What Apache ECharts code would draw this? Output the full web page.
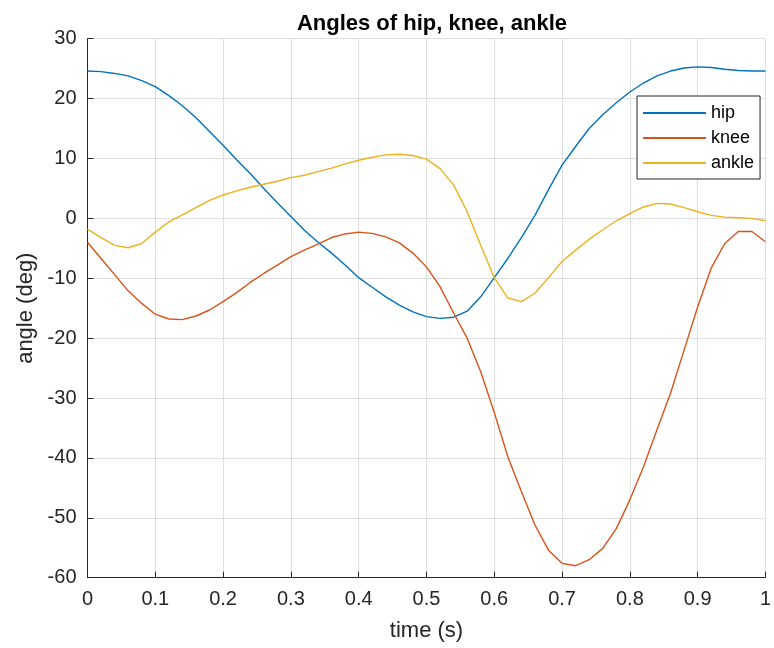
<!DOCTYPE html>
<html>
<head>
<meta charset="utf-8">
<style>
  html, body { margin: 0; padding: 0; background: #fff; }
  #chart { width: 774px; height: 648px; }
</style>
<script src="https://cdn.jsdelivr.net/npm/echarts@6/dist/echarts.min.js"></script>
</head>
<body>
<div id="chart"></div>
<script>
// Sample times (s)
const time = [0, 0.02, 0.04, 0.06, 0.08, 0.1, 0.12, 0.14, 0.16, 0.18,
  0.2, 0.22, 0.24, 0.26, 0.28, 0.3, 0.32, 0.34, 0.36, 0.38,
  0.4, 0.42, 0.44, 0.46, 0.48, 0.5, 0.52, 0.54, 0.56, 0.58,
  0.6, 0.62, 0.64, 0.66, 0.68, 0.7, 0.72, 0.74, 0.76, 0.78,
  0.8, 0.82, 0.84, 0.86, 0.88, 0.9, 0.92, 0.94, 0.96, 0.98, 1.0];

// Joint angles (deg)
const hip = [24.6, 24.5, 24.2, 23.8, 23.0, 22.0, 20.5, 18.8, 16.8, 14.5,
  12.2, 9.8, 7.5, 5.0, 2.6, 0.3, -2.0, -4.0, -5.8, -7.8,
  -9.9, -11.5, -13.1, -14.5, -15.6, -16.4, -16.7, -16.5, -15.5, -13.1,
  -9.9, -6.7, -3.2, 0.5, 4.8, 8.9, 12.0, 15.0, 17.3, 19.3,
  21.1, 22.6, 23.8, 24.6, 25.1, 25.3, 25.2, 24.9, 24.7, 24.6, 24.6];

const knee = [-4.0, -6.7, -9.4, -12.1, -14.2, -16.0, -16.8, -16.9, -16.3, -15.3,
  -13.9, -12.4, -10.7, -9.2, -7.8, -6.4, -5.3, -4.3, -3.2, -2.6,
  -2.3, -2.5, -3.1, -4.1, -5.8, -8.1, -11.4, -15.8, -20.0, -25.6,
  -32.4, -39.8, -45.6, -51.2, -55.4, -57.6, -58.0, -57.0, -55.1, -51.8,
  -47.0, -41.5, -35.3, -29.2, -22.0, -14.8, -8.3, -4.2, -2.2, -2.2, -3.9];

const ankle = [-1.8, -3.2, -4.5, -4.9, -4.2, -2.3, -0.6, 0.6, 1.8, 3.0,
  3.9, 4.6, 5.2, 5.7, 6.2, 6.8, 7.2, 7.8, 8.4, 9.1,
  9.7, 10.2, 10.6, 10.7, 10.5, 9.9, 8.3, 5.6, 1.1, -4.5,
  -9.9, -13.3, -13.9, -12.5, -9.9, -7.2, -5.3, -3.5, -1.9, -0.4,
  0.8, 1.9, 2.5, 2.4, 1.8, 1.1, 0.5, 0.2, 0.1, 0.0, -0.4];

const seriesNames = ['hip', 'knee', 'ankle'];
const seriesColors = ['#0072BD', '#D95319', '#EDB120'];

const FONT = 'Liberation Sans, Arial, Helvetica, sans-serif';
const INK = '#262626';

function pairs(values) {
  return time.map((t, i) => [t, values[i]]);
}

const chart = echarts.init(document.getElementById('chart'), null, { renderer: 'canvas' });

chart.setOption({
  animation: false,
  backgroundColor: '#ffffff',
  color: seriesColors,
  title: {
    text: 'Angles of hip, knee, ankle',
    left: 427,
    textAlign: 'center',
    top: 8,
    textStyle: { fontFamily: FONT, fontSize: 22, fontWeight: 'bold', color: '#000' }
  },
  legend: {
    orient: 'vertical',
    left: 637,
    top: 96,
    padding: [8, 6, 7, 5],
    itemWidth: 63,
    itemHeight: 14,
    itemGap: 7,
    backgroundColor: '#ffffff',
    borderColor: INK,
    borderWidth: 1,
    borderRadius: 0,
    itemStyle: { opacity: 0 },
    textStyle: { fontFamily: FONT, fontSize: 18, color: '#000' },
    data: seriesNames
  },
  grid: {
    left: 87.5,
    right: 7,
    top: 38.7,
    bottom: 70.3,
    containLabel: false
  },
  xAxis: {
    type: 'value',
    min: 0,
    max: 1,
    interval: 0.1,
    name: 'time (s)',
    nameLocation: 'middle',
    nameGap: 42,
    nameTextStyle: { fontFamily: FONT, fontSize: 22, color: INK },
    axisLine: { show: true, onZero: false, lineStyle: { color: INK, width: 1 } },
    axisTick: { show: true, inside: true, length: 6, lineStyle: { color: INK } },
    axisLabel: { fontFamily: FONT, fontSize: 20, color: INK, margin: 12 },
    splitLine: { show: true, lineStyle: { color: '#dfdfdf', width: 1 } }
  },
  yAxis: {
    type: 'value',
    min: -60,
    max: 30,
    interval: 10,
    name: 'angle (deg)',
    nameLocation: 'middle',
    nameRotate: 90,
    nameGap: 51,
    nameTextStyle: { fontFamily: FONT, fontSize: 22, color: INK },
    axisLine: { show: true, onZero: false, lineStyle: { color: INK, width: 1 } },
    axisTick: { show: true, inside: true, length: 6, lineStyle: { color: INK } },
    axisLabel: { fontFamily: FONT, fontSize: 20, color: INK, margin: 11 },
    splitLine: { show: true, lineStyle: { color: '#dfdfdf', width: 1 } }
  },
  series: [hip, knee, ankle].map((vals, k) => ({
    name: seriesNames[k],
    type: 'line',
    data: pairs(vals),
    symbol: 'none',
    smooth: false,
    lineStyle: { width: 1.4, color: seriesColors[k] },
    itemStyle: { color: seriesColors[k] },
    z: 3 + k
  }))
});
</script>
</body>
</html>
